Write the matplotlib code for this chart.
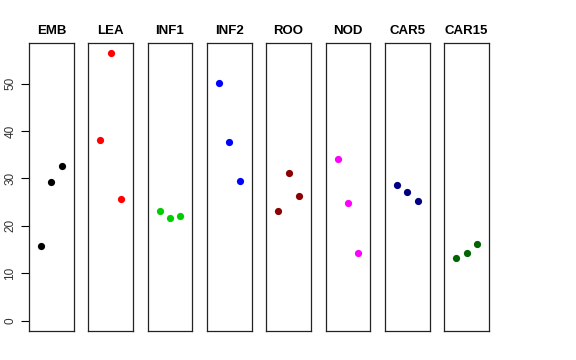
import matplotlib
matplotlib.use("Agg")
import matplotlib.pyplot as plt

groups = ["EMB", "LEA", "INF1", "INF2", "ROO", "NOD", "CAR5", "CAR15"]
colors = ["black", "red", "#00CD00", "blue", "#8B0000", "magenta", "#000080", "#006400"]
vals = {
    "EMB": [15.7, 29.2, 32.7],
    "LEA": [38.2, 56.4, 25.6],
    "INF1": [23.2, 21.6, 22.0],
    "INF2": [50.1, 37.8, 29.5],
    "ROO": [23.1, 31.1, 26.3],
    "NOD": [34.2, 24.9, 14.2],
    "CAR5": [28.7, 27.2, 25.2],
    "CAR15": [13.2, 14.3, 16.2],
}
xpos = [1, 2, 3]
yticks = [0, 10, 20, 30, 40, 50]

W, H = 576, 360
fig = plt.figure(figsize=(W / 100, H / 100), dpi=100)
plt.rcParams['font.family'] = ['Liberation Sans', 'DejaVu Sans']

ymax = max(max(v) for v in vals.values())
ylo, yhi = 0 - 0.04 * ymax, ymax + 0.04 * ymax

left0 = 29.0
pw = 44.8
step = 59.3
top, bottom = 42.7, 331.3
for i, g in enumerate(groups):
    l = left0 + i * step
    ax = fig.add_axes([l / W, 1 - bottom / H, pw / W, (bottom - top) / H])
    ax.plot(xpos, vals[g], 'o', color=colors[i], markersize=5.2, markeredgewidth=0)
    ax.set_xlim(-0.16, 4.16)
    ax.set_ylim(ylo, yhi)
    ax.set_xticks([])
    for s in ax.spines.values():
        s.set_linewidth(0.9)
        s.set_color("#222222")
    ax.set_title(g, fontsize=9.5, fontweight='bold', pad=6)
    if i == 0:
        ax.set_yticks(yticks)
        ax.set_yticklabels([str(t) for t in yticks], rotation=90, va='center', fontsize=8.5,
                           color="#333333")
        ax.tick_params(axis='y', length=5.5, width=0.8, pad=3.5)
    else:
        ax.set_yticks([])

fig.savefig("out.png", dpi=100)
